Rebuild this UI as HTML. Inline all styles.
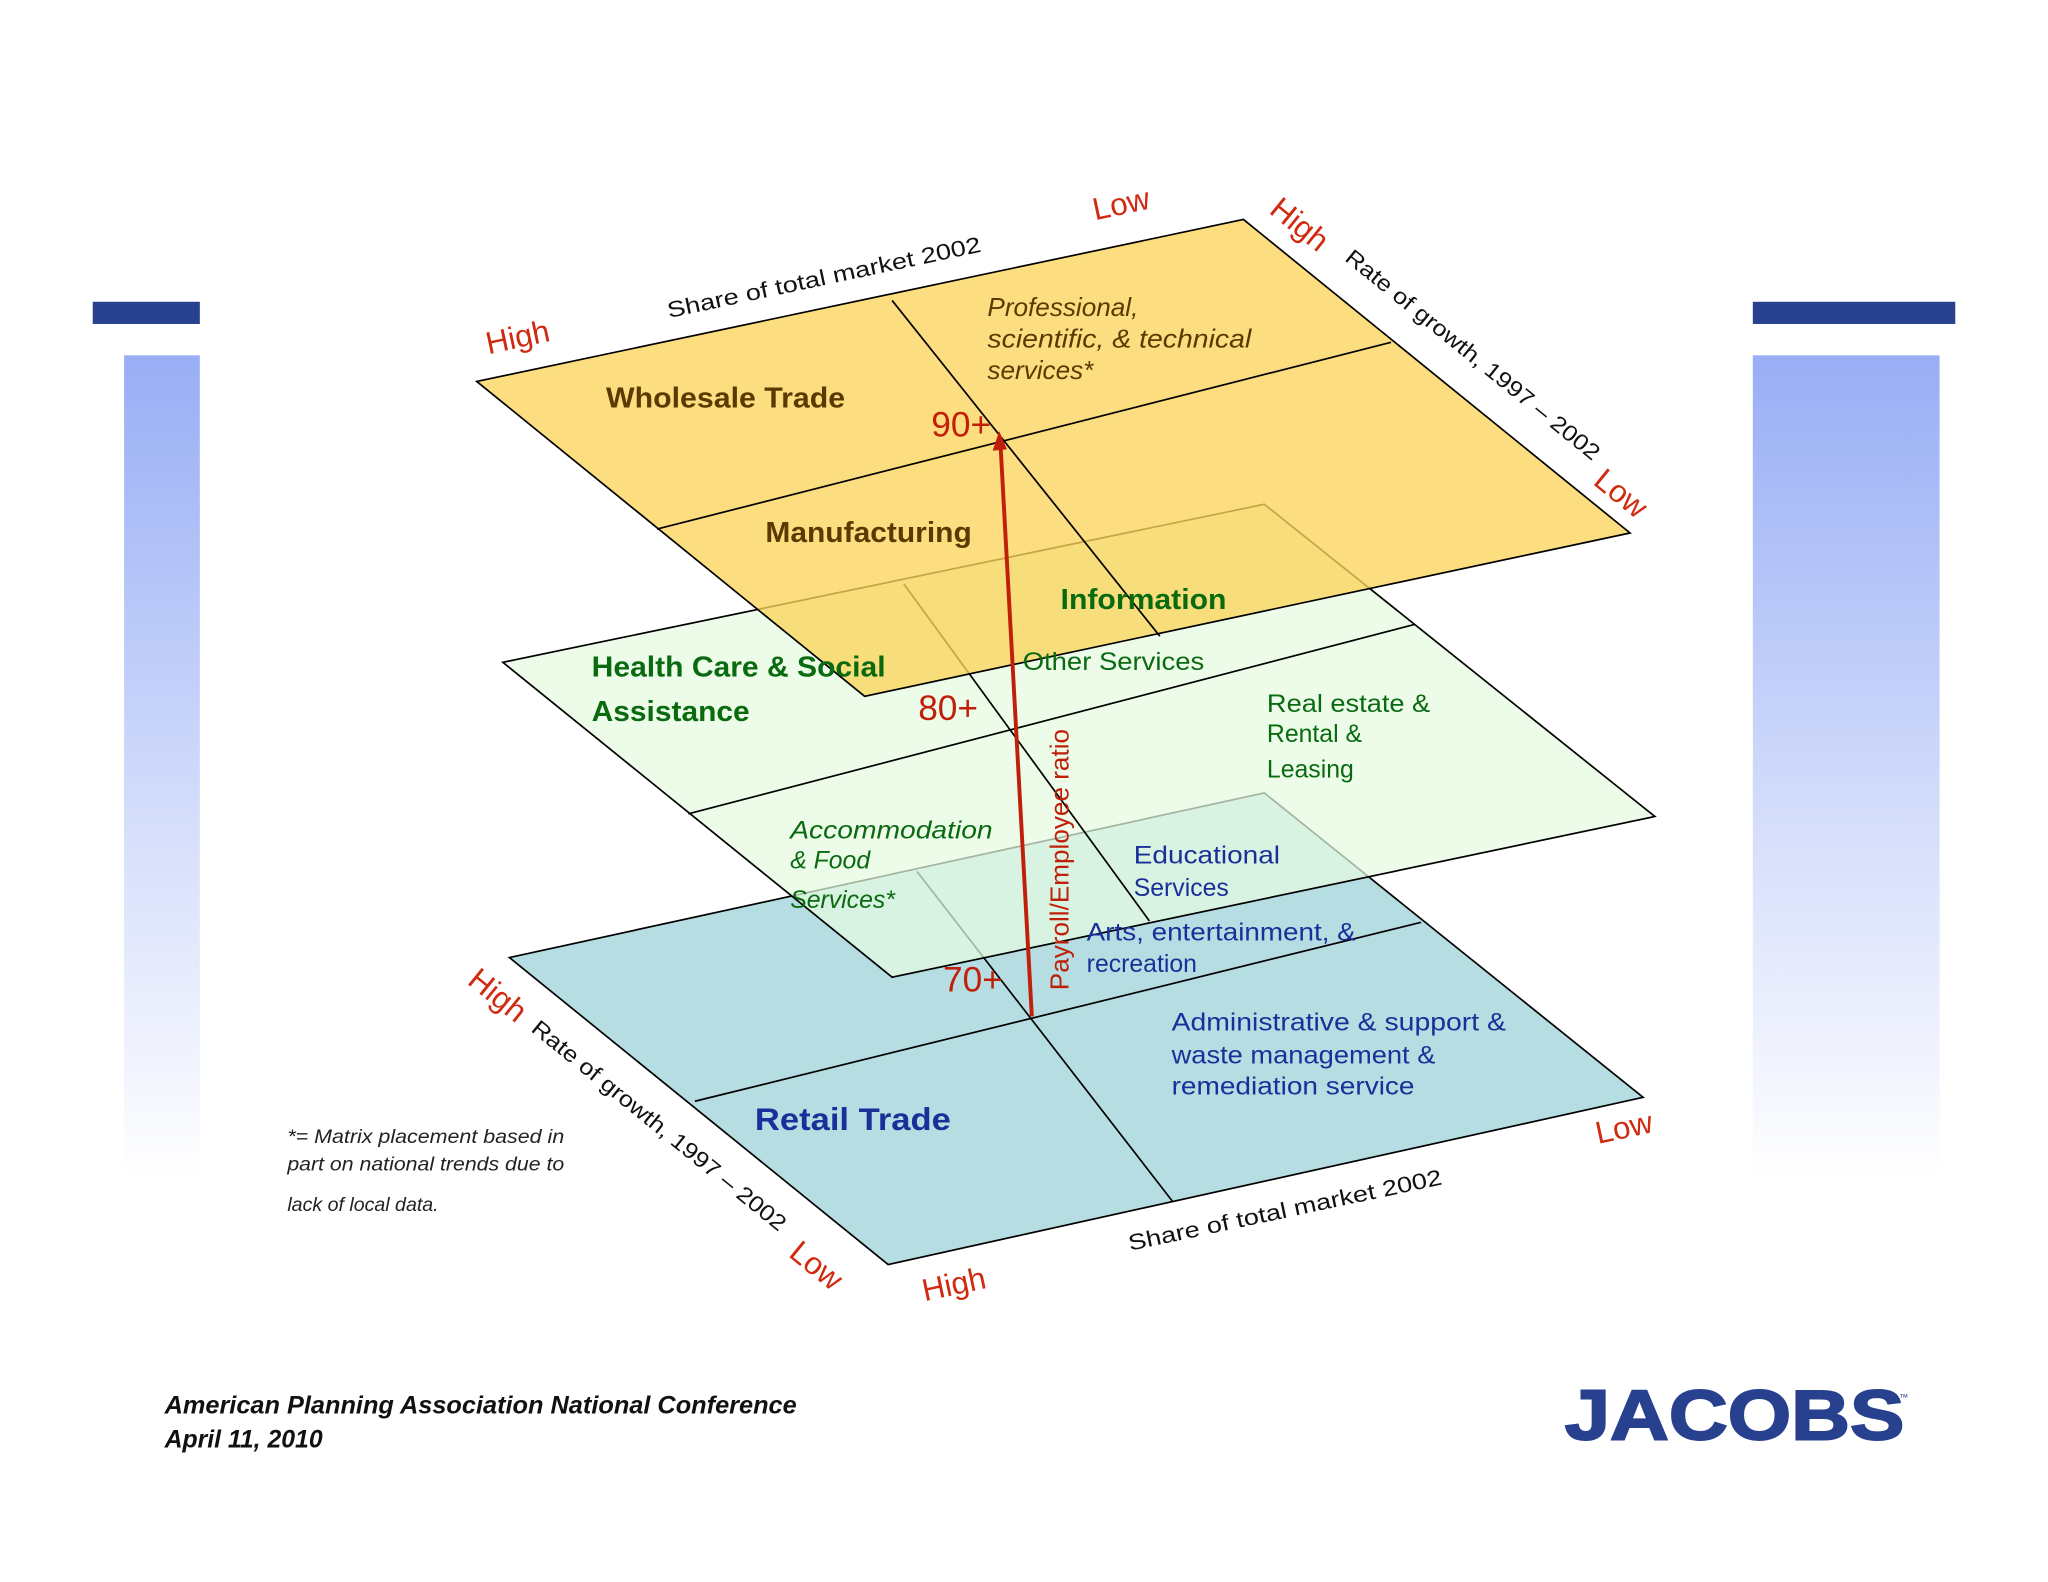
<!DOCTYPE html>
<html><head><meta charset="utf-8"><style>
html,body{margin:0;padding:0;background:#fff;}
svg{display:block;}
text{font-family:"Liberation Sans",sans-serif;}
</style></head><body>
<svg width="2048" height="1582" viewBox="0 0 1568 1211" preserveAspectRatio="none" xmlns="http://www.w3.org/2000/svg">
<defs>
<linearGradient id="sb" x1="0" y1="0" x2="0" y2="1">
<stop offset="0" stop-color="#98aef5"/><stop offset="0.6" stop-color="#d8e0fb"/><stop offset="1" stop-color="#ffffff"/>
</linearGradient>
</defs>
<rect x="71" y="231" width="82" height="17" fill="#27418f"/>
<rect x="95" y="272" width="58" height="630" fill="url(#sb)"/>
<rect x="1342" y="231" width="155" height="17" fill="#27418f"/>
<rect x="1342" y="272" width="143" height="630" fill="url(#sb)"/>

<polygon points="390,733 968,607 1258,840 680,968" fill="#b6dde1" stroke="#000" stroke-width="1.3"/>
<line x1="532" y1="843" x2="1088" y2="706" stroke="#000" stroke-width="1.3"/>
<line x1="702" y1="667" x2="898" y2="920" stroke="#000" stroke-width="1.3"/>
<polygon points="385,507 968,386 1267,625 683,748" fill="#e4fbe0" fill-opacity="0.72" stroke="#000" stroke-width="1.3"/>
<line x1="527" y1="623" x2="1083" y2="478" stroke="#000" stroke-width="1.3"/>
<line x1="692" y1="447" x2="880" y2="705" stroke="#000" stroke-width="1.3"/>
<polygon points="365,292 952,168 1248,408 662,533" fill="#fbd45c" fill-opacity="0.78" stroke="#000" stroke-width="1.3"/>
<line x1="503" y1="405" x2="1065" y2="262" stroke="#000" stroke-width="1.3"/>
<line x1="683" y1="230" x2="888" y2="487" stroke="#000" stroke-width="1.3"/>

<line x1="790" y1="778" x2="766" y2="340" stroke="#c0200a" stroke-width="3"/>
<polygon points="765,330 760,345 771,344" fill="#c0200a"/>

<g fill="#c0200a" font-size="27">
<text x="713" y="334">90+</text>
<text x="703" y="551">80+</text>
<text x="722" y="759">70+</text>
</g>
<text transform="translate(818,658) rotate(-90)" text-anchor="middle" font-size="20" fill="#c0200a">Payroll/Employee ratio</text>

<g font-weight="bold" font-size="22">
<text x="464" y="312" fill="#5a3a00" textLength="183" lengthAdjust="spacingAndGlyphs">Wholesale Trade</text>
<text x="586" y="415" fill="#5a3a00" textLength="158" lengthAdjust="spacingAndGlyphs">Manufacturing</text>
<text x="812" y="466" fill="#0a6a10" textLength="127" lengthAdjust="spacingAndGlyphs">Information</text>
<text x="453" y="518" fill="#0a6a10" textLength="225" lengthAdjust="spacingAndGlyphs">Health Care &amp; Social</text>
<text x="453" y="552" fill="#0a6a10" textLength="121" lengthAdjust="spacingAndGlyphs">Assistance</text>
<text x="578" y="865" fill="#1a2f9a" font-size="24" textLength="150" lengthAdjust="spacingAndGlyphs">Retail Trade</text>
</g>
<g font-style="italic" font-size="20" fill="#5a3a00">
<text x="756" y="242">Professional,</text>
<text x="756" y="266" textLength="202" lengthAdjust="spacingAndGlyphs">scientific, &amp; technical</text>
<text x="756" y="290">services*</text>
</g>
<g font-size="19" fill="#0a6a10">
<text x="783" y="513" textLength="139" lengthAdjust="spacingAndGlyphs">Other Services</text>
<text x="970" y="545" textLength="125" lengthAdjust="spacingAndGlyphs">Real estate &amp;</text>
<text x="970" y="568">Rental &amp;</text>
<text x="970" y="595">Leasing</text>
<g font-style="italic"><text x="605" y="642" textLength="155" lengthAdjust="spacingAndGlyphs">Accommodation</text>
<text x="605" y="665">&amp; Food</text>
<text x="605" y="695">Services*</text></g>
</g>
<g font-size="19" fill="#1a2f9a">
<text x="868" y="661" textLength="112" lengthAdjust="spacingAndGlyphs">Educational</text>
<text x="868" y="686">Services</text>
<text x="832" y="720" textLength="206" lengthAdjust="spacingAndGlyphs">Arts, entertainment, &amp;</text>
<text x="832" y="744">recreation</text>
<text x="897" y="789" textLength="256" lengthAdjust="spacingAndGlyphs">Administrative &amp; support &amp;</text>
<text x="897" y="814" textLength="202" lengthAdjust="spacingAndGlyphs">waste management &amp;</text>
<text x="897" y="838" textLength="186" lengthAdjust="spacingAndGlyphs">remediation service</text>
</g>

<g font-size="24" fill="#d02a10">
<text transform="translate(398,266) rotate(-12)" text-anchor="middle">High</text>
<text transform="translate(860,164) rotate(-12)" text-anchor="middle">Low</text>
<text transform="translate(990,178) rotate(39)" text-anchor="middle">High</text>
<text transform="translate(1236,384) rotate(39)" text-anchor="middle">Low</text>
<text transform="translate(376,768) rotate(39)" text-anchor="middle">High</text>
<text transform="translate(620,975) rotate(39)" text-anchor="middle">Low</text>
<text transform="translate(732,991) rotate(-12)" text-anchor="middle">High</text>
<text transform="translate(1245,871) rotate(-12)" text-anchor="middle">Low</text>
</g>
<g font-size="17" fill="#111">
<text transform="translate(632,218) rotate(-12)" text-anchor="middle" textLength="245" lengthAdjust="spacingAndGlyphs">Share of total market 2002</text>
<text transform="translate(1124,276) rotate(39)" text-anchor="middle" textLength="245" lengthAdjust="spacingAndGlyphs">Rate of growth, 1997 – 2002</text>
<text transform="translate(501,866) rotate(39)" text-anchor="middle" textLength="245" lengthAdjust="spacingAndGlyphs">Rate of growth, 1997 – 2002</text>
<text transform="translate(985,932) rotate(-12)" text-anchor="middle" textLength="245" lengthAdjust="spacingAndGlyphs">Share of total market 2002</text>
</g>

<g font-size="15" font-style="italic" fill="#222">
<text x="220" y="875" textLength="212" lengthAdjust="spacingAndGlyphs">*= Matrix placement based in</text>
<text x="220" y="896" textLength="212" lengthAdjust="spacingAndGlyphs">part on national trends due to</text>
<text x="220" y="927">lack of local data.</text>
</g>

<g font-size="19" font-style="italic" font-weight="bold" fill="#111">
<text x="126" y="1082" textLength="484" lengthAdjust="spacingAndGlyphs">American Planning Association National Conference</text>
<text x="126" y="1108">April 11, 2010</text>
</g>
<text x="1198" y="1102" font-size="54" font-weight="bold" fill="#27418f" textLength="260" lengthAdjust="spacingAndGlyphs" stroke="#27418f" stroke-width="1.5">JACOBS</text>
<text x="1454" y="1072" font-size="7" fill="#27418f">™</text>
</svg>
</body></html>
